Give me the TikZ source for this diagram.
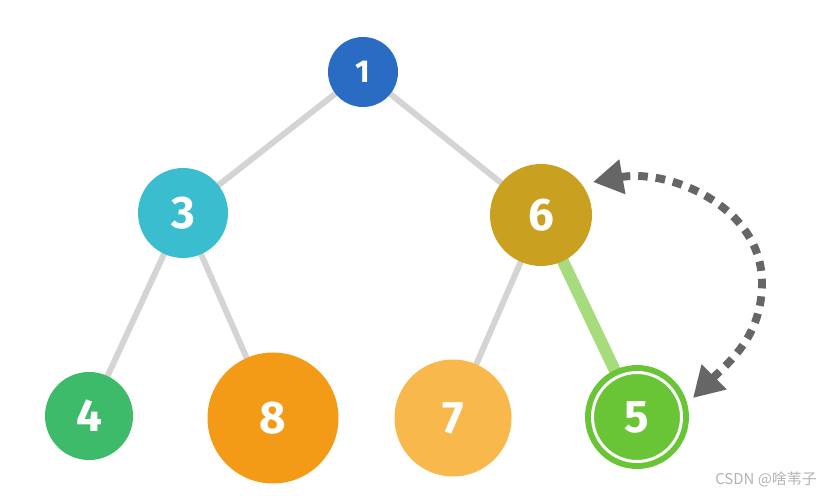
\documentclass[tikz,border=0pt]{standalone}
\usepackage{fontspec}
\setmainfont{Fira Sans}
\newfontfamily\cjk{Noto Sans CJK SC}
\usepackage{xcolor}
\usepackage{tikz}
\usetikzlibrary{arrows.meta, backgrounds}

\definecolor{heapblue}{HTML}{2A6CC3}
\definecolor{heapcyan}{HTML}{3BBDD0}
\definecolor{heapgold}{HTML}{C9A020}
\definecolor{heapgreen}{HTML}{3DBB6B}
\definecolor{heaporange}{HTML}{F39A17}
\definecolor{heaplight}{HTML}{F8B84C}
\definecolor{heaplime}{HTML}{6AC536}
\definecolor{edgegray}{HTML}{D4D4D4}
\definecolor{edgelime}{HTML}{A6DB7E}
\definecolor{swapgray}{HTML}{666666}

\begin{document}
\begin{tikzpicture}[x=0.2mm, y=-0.2mm,
        ball/.style={circle, fill=#1, text=white, inner sep=0pt,
          font=\bfseries\fontsize{26}{26}\selectfont},
        tree edge/.style={edgegray, line width=3.4pt},
        moved edge/.style={edgelime, line width=6.8pt},
        swap arrow/.style={swapgray, line width=4.5pt,
          dash pattern=on 5.5pt off 4.5pt,
          {Triangle[length=17pt,width=19pt]}-{Triangle[length=17pt,width=19pt]}}]
        \useasboundingbox (0,0) rectangle (825,496);
        \node[ball=heapblue, minimum size=1.40cm,
          font=\bfseries\fontsize{18}{18}\selectfont] (n1) at (363,72) {1};
        \node[ball=heapcyan, minimum size=1.80cm] (n3) at (183,213) {3};
        \node[ball=heapgold, minimum size=2.04cm] (n6) at (541,215) {6};
        \node[ball=heapgreen, minimum size=1.76cm] (n4) at (89,416) {4};
        \node[ball=heaporange, minimum size=2.62cm] (n8) at (273,418) {8};
        \node[ball=heaplight, minimum size=2.34cm] (n7) at (453,418) {7};
        \node[ball=heaplime, minimum size=1.78cm, draw=heaplime,
          line width=3.4pt, double=white, double distance=1.7pt] (n5) at (637,417) {5};

        \begin{scope}[on background layer]
          \draw[tree edge] (n1.center) -- (n3.center);
          \draw[tree edge] (n1.center) -- (n6.center);
          \draw[tree edge] (n3.center) -- (n4.center);
          \draw[tree edge] (n3.center) -- (n8.center);
          \draw[tree edge] (n6.center) -- (n7.center);
          \draw[moved edge] (n6.center) -- (n5.center);
        \end{scope}

        % swap 5 <-> 6
        \coordinate (tip5) at (693,398);
        \coordinate (bend) at (762,283);
        \coordinate (tip6) at (593,182);
        \draw[swap arrow] (tip5) to[out=45, in=-90] (bend) to[out=90, in=10] (tip6);

        \node[text=black!30, font=\cjk\fontsize{8.5}{9}\selectfont] (mark) at (766,479) {CSDN @啥苇子};
      \end{tikzpicture}
\end{document}
